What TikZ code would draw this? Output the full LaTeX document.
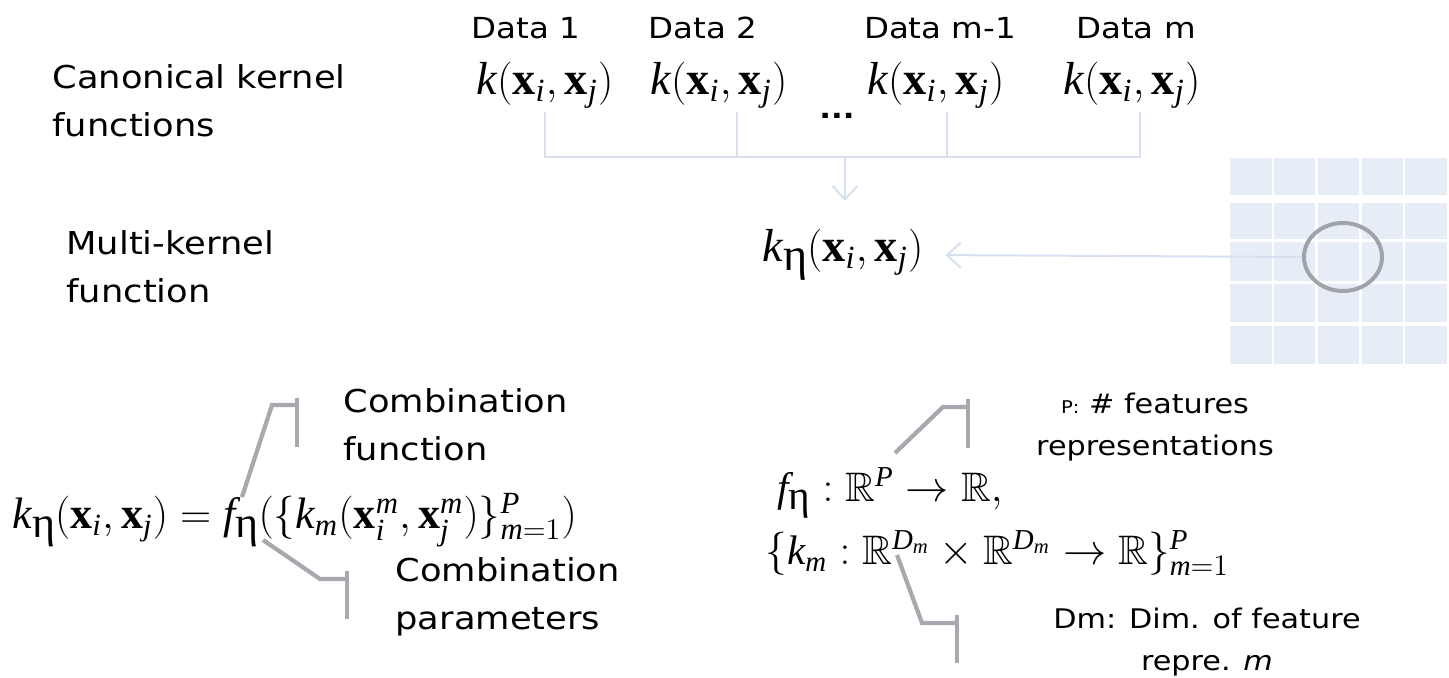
\documentclass[tikz,border=0pt]{standalone}
\usepackage{amsmath,amssymb}
\usepackage[no-math]{fontspec}
\setmainfont{DejaVu Sans}[FakeStretch=1.12]
\newfontfamily\tms{Liberation Serif}
\usetikzlibrary{arrows.meta,shapes.geometric}
\definecolor{connc}{RGB}{214,224,238}
\definecolor{cellc}{RGB}{231,237,246}
\definecolor{callc}{RGB}{166,169,174}
\definecolor{circc}{RGB}{160,164,170}
\newcommand{\ti}[1]{\text{\tms\itshape #1}}
\newcommand{\tb}[1]{\text{\tms\bfseries #1}}
\newcommand{\eeta}{\raisebox{-0.35ex}{\tms η}}
\newcommand{\kxx}{$\ti{k}(\tb{x}_{\ti{i}},\tb{x}_{\ti{j}})$}
\tikzset{
  lblbig/.style={font=\fontsize{12.6}{19}\selectfont, align=left, inner sep=0pt},
  lblsmall/.style={font=\fontsize{10.8}{16.5}\selectfont, align=center, inner sep=0pt},
  datalbl/.style={font=\fontsize{11.6}{14}\selectfont, inner sep=0pt},
  mtop/.style={font=\fontsize{18.5}{20}\selectfont, inner sep=0pt},
  mbot/.style={font=\fontsize{16.5}{18}\selectfont, inner sep=0pt},
  mbig/.style={font=\fontsize{17.6}{19}\selectfont, inner sep=0pt},
  conn/.style={draw=connc, line width=0.8pt},
  arr/.style={-{Straight Barb[length=5.5pt,width=10pt,line width=0.8pt]}},
  callout/.style={draw=callc, line width=1.7pt, line join=miter},
  cell/.style={fill=cellc},
}
\begin{document}
\begin{tikzpicture}[x=0.4pt,y=-0.4pt]
\useasboundingbox (0,0) rectangle (1449,678);
% left labels
\node[lblbig, anchor=west] (lcan) at (52,101) {Canonical kernel\\functions};
\node[lblbig, anchor=west] (lmul) at (66,267) {Multi-kernel\\function};
% data labels
\node[datalbl] (d1) at (526,28) {Data 1};
\node[datalbl] (d2) at (703,28) {Data 2};
\node[datalbl] (d3) at (940,28) {Data m-1};
\node[datalbl] (d4) at (1136,28) {Data m};
% kernels
\node[mtop] (k1) at (545,85) {\kxx};
\node[mtop] (k2) at (719,85) {\kxx};
\node[mtop] (k3) at (936,85) {\kxx};
\node[mtop] (k4) at (1132,85) {\kxx};
\node[font=\bfseries\fontsize{11}{11}\selectfont, inner sep=0pt] (dots) at (837,116) {...};
% bus
\coordinate (t1) at (545,112); \coordinate (b1) at (545,157);
\coordinate (t2) at (737,112); \coordinate (b2) at (737,157);
\coordinate (t3) at (947,112); \coordinate (b3) at (947,157);
\coordinate (t4) at (1140,112); \coordinate (b4) at (1140,157);
\coordinate (bm) at (845,157);
\coordinate (bmtip) at (845,201);
\draw[conn] (t1) -- (b1) -- (b4) -- (t4);
\draw[conn] (t2) -- (b2);
\draw[conn] (t3) -- (b3);
% multi kernel
\node[mtop] (keta) at (843,255) {$\ti{k}\eeta(\tb{x}_{\ti{i}},\tb{x}_{\ti{j}})$};
\draw[conn,arr] (bm) -- (bmtip);
% grid
\foreach \xa/\xb in {1230/1272,1274/1315,1318/1359,1362/1403,1405/1447}
  \foreach \ya/\yb in {158/195,203/239,242/281,284/322,326/364}
    \fill[cell] (\xa,\ya) rectangle (\xb,\yb);
\node[ellipse, draw=circc, line width=1.6pt, minimum width=31.2pt, minimum height=27.2pt, inner sep=0pt] (circ) at (1343,257) {};
\draw[conn,arr,shorten >=8.6pt] (circ.west) -- (keta.east);
% bottom left formula
\node[mbig, anchor=west] (fbig) at (12,520) {$\ti{k}\eeta(\tb{x}_{\ti{i}},\tb{x}_{\ti{j}})=\ti{f}\eeta(\{\ti{k}_{\ti{m}}(\tb{x}_{\ti{i}}^{\ti{m}},\tb{x}_{\ti{j}}^{\ti{m}})\}_{\ti{m}=1}^{\ti{P}})$};
\node[lblbig, anchor=west] (lcf) at (343,425) {Combination\\function};
\node[lblbig, anchor=west] (lcp) at (395,597) {Combination\\parameters};
\coordinate (c1a) at (242,497); \coordinate (c1b) at (272,405); \coordinate (c1c) at (297,405);
\coordinate (c1t) at (297,398); \coordinate (c1u) at (297,447);
\draw[callout] (c1a) -- (c1b) -- (c1c);
\draw[callout] (c1t) -- (c1u);
\coordinate (c2a) at (263,540); \coordinate (c2b) at (320,579); \coordinate (c2c) at (347,579);
\coordinate (c2t) at (347,571); \coordinate (c2u) at (347,619);
\draw[callout] (c2a) -- (c2b) -- (c2c);
\draw[callout] (c2t) -- (c2u);
% bottom right formulas
\node[mbot, anchor=west] (fr1) at (777,493) {$\ti{f}\eeta:\mathbb{R}^{\ti{P}}\rightarrow\mathbb{R},$};
\node[mbot, anchor=west] (fr2) at (765,553) {$\{\ti{k}_{\ti{m}}:\mathbb{R}^{\ti{D}_{\ti{m}}}\times\mathbb{R}^{\ti{D}_{\ti{m}}}\rightarrow\mathbb{R}\}_{\ti{m}=1}^{\ti{P}}$};
\node[lblsmall] (lp) at (1155,427) {{\fontsize{7}{8}\selectfont P:} \# features\\representations};
\node[lblsmall] (ld) at (1207,642) {Dm: Dim. of feature\\repre. \textit{m}};
\coordinate (c3a) at (895,453); \coordinate (c3b) at (943,407); \coordinate (c3c) at (968,407);
\coordinate (c3t) at (968,399); \coordinate (c3u) at (968,448);
\draw[callout] (c3a) -- (c3b) -- (c3c);
\draw[callout] (c3t) -- (c3u);
\coordinate (c4a) at (897,555); \coordinate (c4b) at (922,623); \coordinate (c4c) at (957,623);
\coordinate (c4t) at (957,615); \coordinate (c4u) at (957,663);
\draw[callout] (c4a) -- (c4b) -- (c4c);
\draw[callout] (c4t) -- (c4u);
\end{tikzpicture}
\end{document}
